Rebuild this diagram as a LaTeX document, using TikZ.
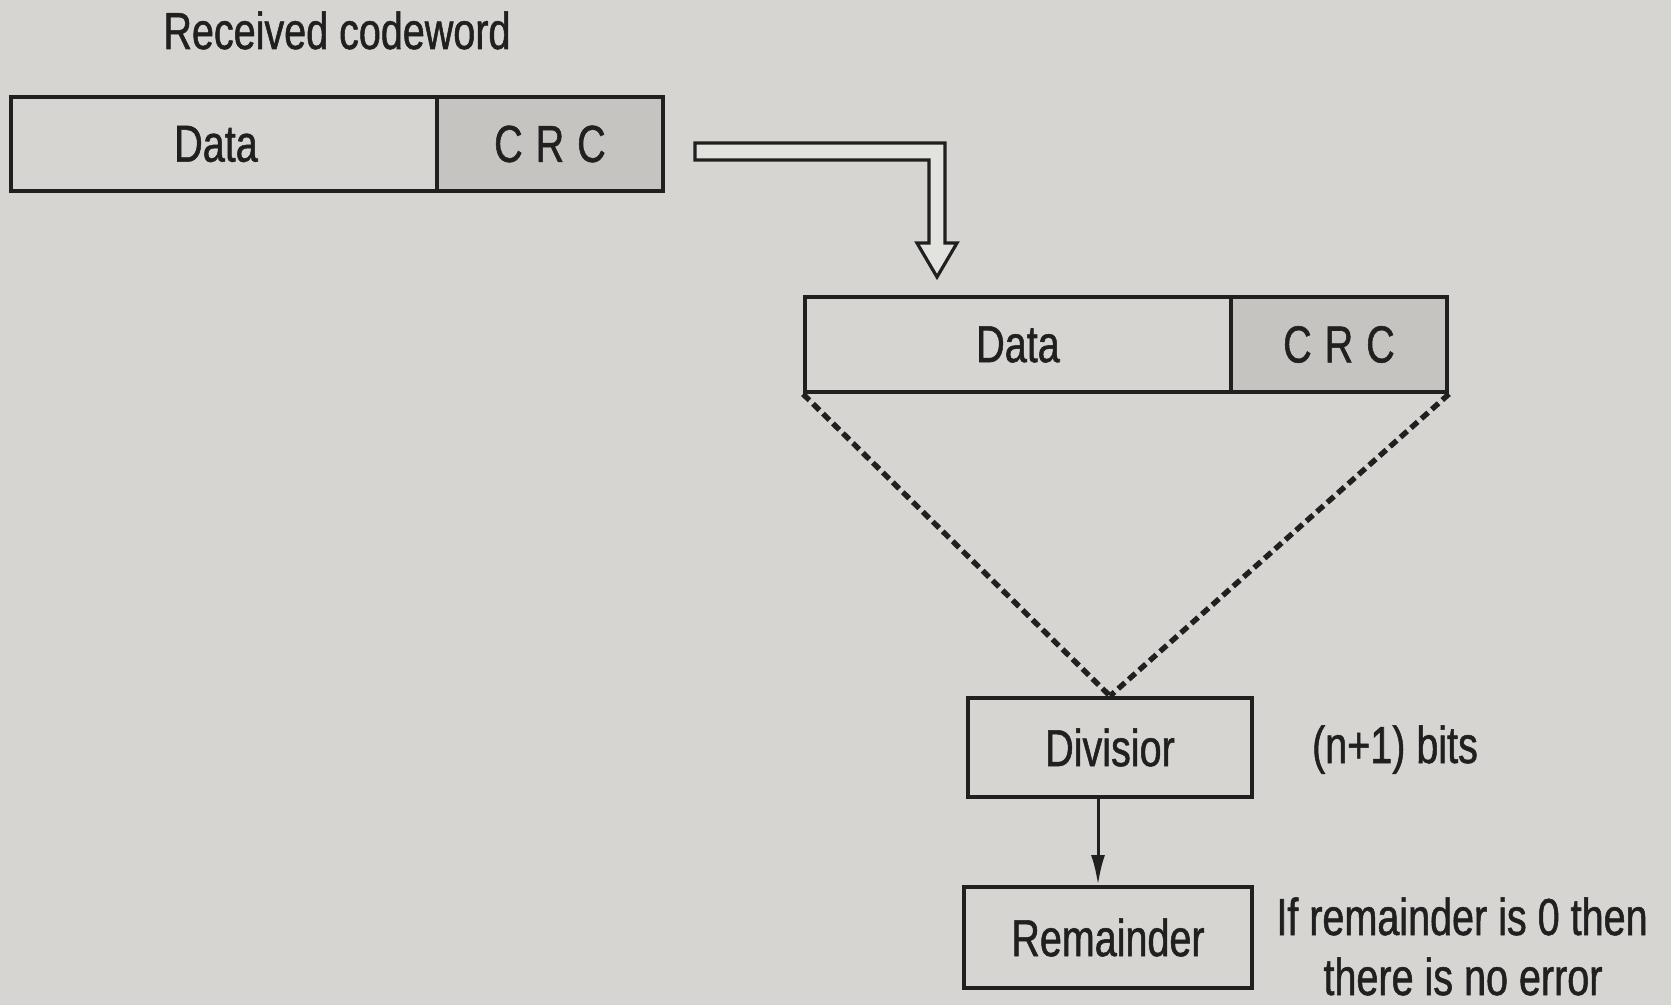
\documentclass[tikz,border=0pt]{standalone}
\usepackage{fontspec}
\setmainfont[FakeStretch=0.76,FakeBold=1]{Liberation Sans}
\usetikzlibrary{arrows.meta,calc}
\definecolor{paper}{RGB}{214,213,210}
\definecolor{crcfill}{RGB}{197,196,193}
\definecolor{ink}{RGB}{32,32,32}
\begin{document}
\begin{tikzpicture}[x=0.5pt,y=-0.5pt,
  every node/.style={font=\fontsize{26}{30}\selectfont, text=ink},
  cell/.style={draw=ink, line width=2pt, inner sep=0pt, minimum height=47pt},
  crccell/.style={cell, fill=crcfill},
  stepbox/.style={draw=ink, line width=2pt, inner sep=0pt},
  dotline/.style={draw=ink, line width=2.7pt, dash pattern=on 4.5pt off 2.5pt},
  hollow/.style={draw=ink, line width=1.6pt, fill=paper!70!white, line join=miter},
  flow/.style={draw=ink, line width=1.5pt, -{Latex[length=15pt,width=7pt]}}
]
% page
\fill[paper] (0,0) rectangle (1671,1005);
\useasboundingbox (0,0) rectangle (1671,1005);

% received codeword
\node[anchor=base] (title) at (337,49) {Received codeword};
\node[cell, minimum width=213pt] (data1) at (224,144) {\hspace{-8pt}Data};
\node[crccell, minimum width=113pt] (crc1) at (550,144) {C\hspace{0.25em}R\hspace{0.25em}C};

% hollow bent arrow
\coordinate (hstart) at (695,143);
\draw[hollow] (hstart) -- (945,143) -- (945,243) -- (957,243) -- (937,277)
  -- (917,243) -- (929,243) -- (929,160) -- (695,160) -- cycle;

% codeword fed to the checker
\node[cell, minimum width=213pt, minimum height=47.5pt] (data2) at (1018,344.5) {Data};
\node[crccell, minimum width=108pt, minimum height=47.5pt] (crc2) at (1339,344.5) {C\hspace{0.25em}R\hspace{0.25em}C};

% division
\node[stepbox, minimum width=142pt, minimum height=49.5pt] (div) at (1110,747.5) {Divisior};
\node[stepbox, minimum width=144pt, minimum height=50.5pt] (rem) at (1108,937.5) {Remainder};

\draw[dotline] (data2.south west) -- (div.north);
\draw[dotline] (crc2.south east) -- (div.north);
\draw[flow] ([xshift=-6pt]div.south) -- ([xshift=-6pt]div.south |- rem.north);

% side notes
\node[anchor=base] (bits) at (1395,763) {(n+1) bits};
\node[anchor=base] (note1) at (1462,935) {If remainder is 0 then};
\node[anchor=base] (note2) at (1463,995) {there is no error};
\end{tikzpicture}
\end{document}
